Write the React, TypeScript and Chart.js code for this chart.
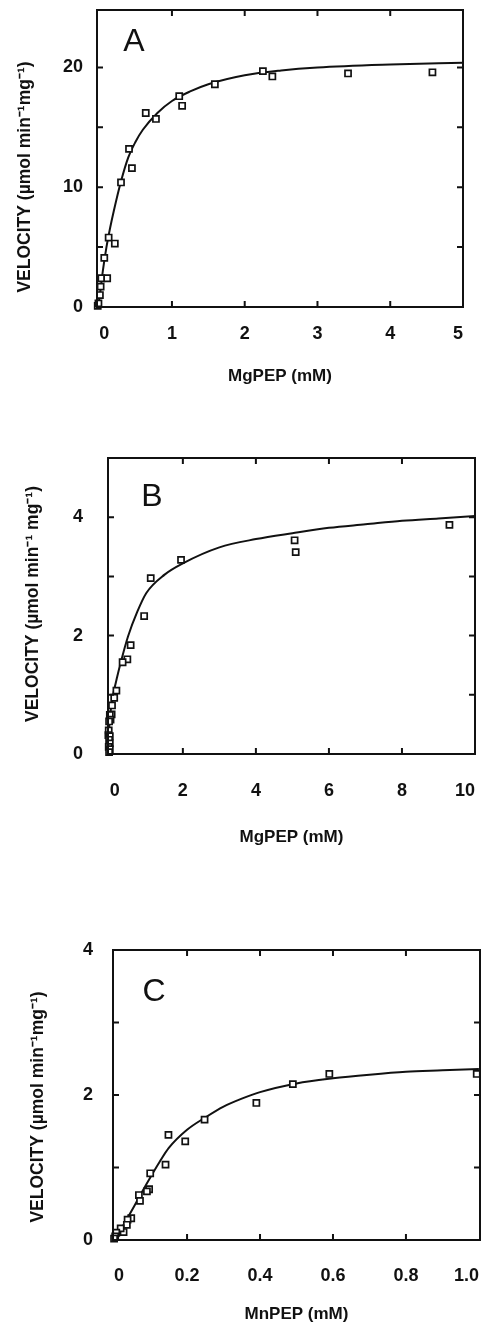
import React, { useEffect, useRef } from "react";
import { Chart, registerables } from "chart.js";

Chart.register(...registerables);

// ---------------- Panel A (MgPEP, 0–5 mM) ----------------
const aPointX = [-0.02, -0.01, 0.01, 0.02, 0.03, 0.11, 0.07, 0.13, 0.215, 0.3, 0.41, 0.45, 0.64, 0.78, 1.1, 1.14, 1.59, 2.25, 2.38, 3.42, 4.58];
const aPointY = [0.1, 0.3, 1.0, 1.7, 2.4, 2.4, 4.1, 5.8, 5.3, 10.4, 13.2, 11.6, 16.2, 15.7, 17.6, 16.8, 18.6, 19.7, 19.25, 19.5, 19.6];
const aCurveX = [-0.02, 0, 0.02, 0.05, 0.1, 0.15, 0.2, 0.3, 0.4, 0.5, 0.6, 0.8, 1.0, 1.25, 1.5, 2.0, 2.5, 3.0, 4.0, 5.0];
const aCurveY = [0, 0.6, 1.5, 3.0, 5.0, 6.6, 8.0, 10.5, 12.5, 13.8, 14.8, 16.2, 17.2, 18.0, 18.6, 19.35, 19.75, 20.0, 20.25, 20.4];
const aXTicks = [0, 1, 2, 3, 4, 5];
const aXLabels = ["0", "1", "2", "3", "4", "5"];
const aYTicks = [0, 5, 10, 15, 20];
const aYLabels = ["0", "", "10", "", "20"];

// ---------------- Panel B (MgPEP, 0–10 mM) ----------------
const bPointX = [9.3, 5.06, 5.09, 1.95, 1.12, 0.94, 0.57, 0.48, 0.35, 0.18, 0.12, 0.06, 0.05, 0.0, 0.02, -0.02, -0.03, -0.04, 0.0, -0.02, 0.0, -0.03, 0.0, -0.02];
const bPointY = [3.87, 3.61, 3.41, 3.28, 2.97, 2.33, 1.84, 1.6, 1.55, 1.07, 0.95, 0.82, 0.67, 0.66, 0.58, 0.55, 0.4, 0.32, 0.3, 0.24, 0.18, 0.12, 0.08, 0.03];
const bCurveX = [-0.05, -0.03, 0, 0.05, 0.1, 0.2, 0.3, 0.5, 0.75, 1.0, 1.5, 2.0, 3.0, 4.0, 5.0, 6.0, 7.0, 8.0, 9.0, 10.0];
const bCurveY = [0, 0.3, 0.6, 0.85, 1.03, 1.3, 1.55, 1.99, 2.4, 2.72, 3.03, 3.22, 3.49, 3.63, 3.73, 3.82, 3.88, 3.94, 3.98, 4.02];
const bXTicks = [0, 2, 4, 6, 8, 10];
const bXLabels = ["0", "2", "4", "6", "8", "10"];
const bYTicks = [0, 1, 2, 3, 4];
const bYLabels = ["0", "", "2", "", "4"];

// ---------------- Panel C (MnPEP, 0–1 mM) ----------------
const cPointX = [0.994, 0.59, 0.49, 0.39, 0.248, 0.195, 0.149, 0.141, 0.099, 0.096, 0.09, 0.068, 0.071, 0.047, 0.037, 0.035, 0.026, 0.018, 0.006, 0.003, 0.0];
const cPointY = [2.29, 2.29, 2.15, 1.89, 1.66, 1.36, 1.45, 1.04, 0.92, 0.7, 0.67, 0.62, 0.54, 0.3, 0.28, 0.21, 0.11, 0.16, 0.1, 0.05, 0.02];
const cCurveX = [0, 0.01, 0.025, 0.05, 0.075, 0.1, 0.125, 0.15, 0.2, 0.25, 0.3, 0.35, 0.4, 0.5, 0.6, 0.7, 0.8, 0.9, 1.0];
const cCurveY = [0, 0.07, 0.2, 0.42, 0.65, 0.87, 1.08, 1.27, 1.52, 1.69, 1.84, 1.95, 2.04, 2.16, 2.23, 2.28, 2.32, 2.34, 2.36];
const cXTicks = [0, 0.2, 0.4, 0.6, 0.8, 1.0];
const cXLabels = ["0", "0.2", "0.4", "0.6", "0.8", "1.0"];
const cYTicks = [0, 1, 2, 3, 4];
const cYLabels = ["0", "", "2", "", "4"];

const yTitleA = "VELOCITY (µmol min⁻¹mg⁻¹)";
const yTitleB = "VELOCITY (µmol min⁻¹ mg⁻¹)";
const yTitleC = "VELOCITY (µmol min⁻¹mg⁻¹)";

const INK = "#111";
const FONT = "'Liberation Sans', Arial, Helvetica, sans-serif";

const framePlugin = {
  id: "frame",
  afterDraw(chart: any, _args: any, opts: any) {
    const { ctx, chartArea, scales } = chart;
    const { left, right, top, bottom } = chartArea;
    const x = scales.x;
    const y = scales.y;
    const L = 6;
    ctx.save();
    ctx.strokeStyle = INK;
    ctx.lineWidth = 2;
    ctx.strokeRect(left, top, right - left, bottom - top);
    ctx.beginPath();
    x.ticks.forEach((t: any) => {
      const px = x.getPixelForValue(t.value);
      if (px <= left + 4 || px >= right - 4) return;
      ctx.moveTo(px, bottom);
      ctx.lineTo(px, bottom - L);
      ctx.moveTo(px, top);
      ctx.lineTo(px, top + L);
    });
    y.ticks.forEach((t: any) => {
      const py = y.getPixelForValue(t.value);
      if (py >= bottom - 4 || py <= top + 4) return;
      ctx.moveTo(left, py);
      ctx.lineTo(left + L, py);
      ctx.moveTo(right, py);
      ctx.lineTo(right - L, py);
    });
    ctx.stroke();
    ctx.fillStyle = INK;
    // panel letter
    ctx.font = `32px ${FONT}`;
    ctx.textAlign = "center";
    ctx.textBaseline = "middle";
    ctx.fillText(opts.letter, left + opts.dx, top + opts.dy);
    // rotated y-axis title
    ctx.font = `bold 17.5px ${FONT}`;
    ctx.translate(opts.ytx, opts.yty);
    ctx.rotate(-Math.PI / 2);
    ctx.fillText(opts.yTitle, 0, 0);
    ctx.restore();
  },
};

type Spec = {
  letter: string; dx: number; dy: number;
  px: number[]; py: number[]; cx: number[]; cy: number[];
  xTicks: number[]; xLabels: string[]; yTicks: number[]; yLabels: string[];
  xMin: number; xMax: number; yMin: number; yMax: number;
  xTitle: string; yTitle: string; ytx: number; yty: number;
  height: number; padTop: number; padRight: number;
  yWidth: number; xHeight: number;
  yTickPad: number; xTickPad: number; xTitlePad: number;
};

function buildConfig(p: Spec): any {
  const tickFont = { family: FONT, size: 18, weight: "bold" as const };
  const titleFont = { family: FONT, size: 17, weight: "bold" as const };
  return {
    type: "scatter",
    data: {
      datasets: [
        {
          data: p.cx.map((x, i) => ({ x, y: p.cy[i] })),
          showLine: true,
          pointRadius: 0,
          borderColor: INK,
          borderWidth: 2,
          cubicInterpolationMode: "monotone",
          fill: false,
          order: 2,
        },
        {
          data: p.px.map((x, i) => ({ x, y: p.py[i] })),
          showLine: false,
          pointStyle: "rect",
          pointRadius: 4.3,
          borderWidth: 1.7,
          borderColor: INK,
          backgroundColor: "#fff",
          clip: false,
          order: 1,
        },
      ],
    },
    options: {
      responsive: false,
      animation: false,
      devicePixelRatio: 1,
      layout: { padding: { top: p.padTop, right: p.padRight, bottom: 0, left: 0 } },
      plugins: {
        legend: { display: false },
        tooltip: { enabled: false },
        frame: { letter: p.letter, dx: p.dx, dy: p.dy, yTitle: p.yTitle, ytx: p.ytx, yty: p.yty },
      },
      scales: {
        x: {
          type: "linear",
          position: "bottom",
          min: p.xMin,
          max: p.xMax,
          grid: { display: false, drawTicks: false },
          border: { display: false },
          afterBuildTicks: (s: any) => {
            s.ticks = p.xTicks.map((v) => ({ value: v }));
          },
          afterFit: (s: any) => {
            s.height = p.xHeight;
            s.paddingLeft = 0;
            s.paddingRight = 0;
          },
          ticks: {
            autoSkip: false,
            maxRotation: 0,
            align: "inner",
            padding: p.xTickPad,
            color: INK,
            font: tickFont,
            callback: (_v: any, i: number) => p.xLabels[i],
          },
          title: {
            display: true,
            text: p.xTitle,
            color: INK,
            font: titleFont,
            padding: { top: 0, bottom: p.xTitlePad },
          },
        },
        y: {
          type: "linear",
          position: "left",
          min: p.yMin,
          max: p.yMax,
          grid: { display: false, drawTicks: false },
          border: { display: false },
          afterBuildTicks: (s: any) => {
            s.ticks = p.yTicks.map((v) => ({ value: v }));
          },
          afterFit: (s: any) => {
            s.width = p.yWidth;
            s.paddingTop = 0;
            s.paddingBottom = 0;
          },
          ticks: {
            autoSkip: false,
            padding: p.yTickPad,
            color: INK,
            font: tickFont,
            callback: (_v: any, i: number) => p.yLabels[i],
          },
          title: { display: false },
        },
      },
    },
    plugins: [framePlugin],
  };
}

const specA: Spec = {
  letter: "A", dx: 37, dy: 32,
  px: aPointX, py: aPointY, cx: aCurveX, cy: aCurveY,
  xTicks: aXTicks, xLabels: aXLabels, yTicks: aYTicks, yLabels: aYLabels,
  xMin: -0.03, xMax: 5, yMin: 0, yMax: 24.8,
  xTitle: "MgPEP (mM)", yTitle: yTitleA, ytx: 25, yty: 177,
  height: 400, padTop: 10, padRight: 24, yWidth: 97, xHeight: 93,
  yTickPad: 14, xTickPad: 16, xTitlePad: 13,
};

const specB: Spec = {
  letter: "B", dx: 44, dy: 39,
  px: bPointX, py: bPointY, cx: bCurveX, cy: bCurveY,
  xTicks: bXTicks, xLabels: bXLabels, yTicks: bYTicks, yLabels: bYLabels,
  xMin: -0.05, xMax: 10, yMin: 0, yMax: 5,
  xTitle: "MgPEP (mM)", yTitle: yTitleB, ytx: 33.5, yty: 204,
  height: 460, padTop: 58, padRight: 12, yWidth: 108, xHeight: 106,
  yTickPad: 25, xTickPad: 26, xTitlePad: 12,
};

const specC: Spec = {
  letter: "C", dx: 41, dy: 42,
  px: cPointX, py: cPointY, cx: cCurveX, cy: cCurveY,
  xTicks: cXTicks, xLabels: cXLabels, yTicks: cYTicks, yLabels: cYLabels,
  xMin: -0.003, xMax: 1.003, yMin: 0, yMax: 4,
  xTitle: "MnPEP (mM)", yTitle: yTitleC, ytx: 38.5, yty: 247,
  height: 466, padTop: 90, padRight: 7, yWidth: 113, xHeight: 86,
  yTickPad: 20, xTickPad: 25, xTitlePad: 1,
};

function Panel({ spec, top }: { spec: Spec; top: number }) {
  const ref = useRef<HTMLCanvasElement>(null);
  useEffect(() => {
    const chart = new Chart(ref.current as HTMLCanvasElement, buildConfig(spec));
    return () => chart.destroy();
  }, [spec]);
  return (
    <canvas
      ref={ref}
      width={487}
      height={spec.height}
      style={{ position: "absolute", left: 0, top, width: 487, height: spec.height }}
    />
  );
}

export default function App() {
  return (
    <div style={{ position: "absolute", left: 0, top: 0, width: 487, height: 1326, background: "#fff", overflow: "hidden" }}>
      <Panel spec={specA} top={0} />
      <Panel spec={specB} top={400} />
      <Panel spec={specC} top={860} />
    </div>
  );
}
